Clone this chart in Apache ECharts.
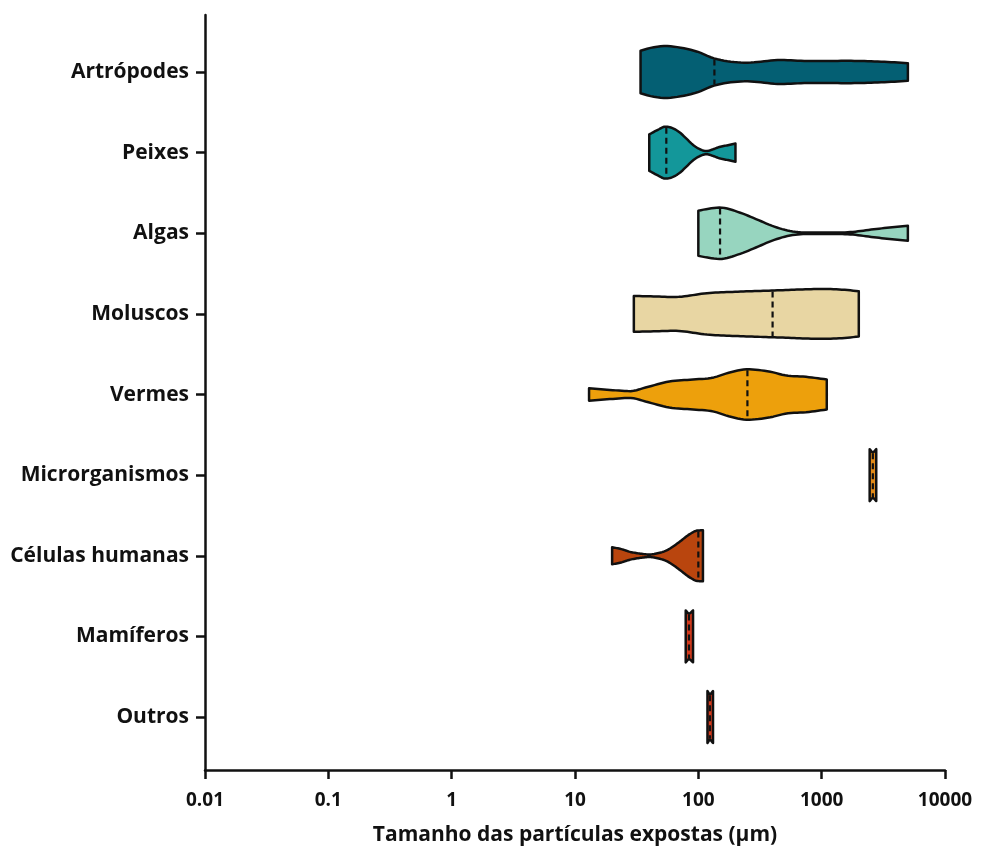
<!DOCTYPE html>
<html>
<head>
<meta charset="utf-8">
<script src="https://cdn.jsdelivr.net/npm/echarts@6/dist/echarts.min.js"></script>
<style>
  html, body { margin: 0; padding: 0; background: #fff; }
  #chart { width: 983px; height: 849px; }
</style>
</head>
<body>
<div id="chart"></div>
<script>
// categories, top to bottom
const categories = ['Artrópodes', 'Peixes', 'Algas', 'Moluscos', 'Vermes',
  'Microrganismos', 'Células humanas', 'Mamíferos', 'Outros'];
const xTickLabels = ['0.01', '0.1', '1', '10', '100', '1000', '10000'];
const colors = ['#045f73', '#13979a', '#97d5bf', '#e8d6a3', '#eda00c',
  '#e08a1a', '#b9450e', '#d23a1c', '#d23a1c'];
// median of each group (µm)
const medians = [135, 55, 150, 400, 250, 2600, 100, 84, 124];

// violin profiles: [particle size µm, relative density %]
const artropodes = [[34, 82], [42, 94], [54, 100], [75, 92], [100, 77], [131, 54],
  [181, 40], [248, 36], [460, 46], [850, 42], [1600, 43], [3000, 40], [5000, 34]];
const peixes = [[40, 70], [47, 88], [54, 100], [62, 94], [71, 77], [80, 54], [90, 31],
  [103, 13], [117, 6], [130, 12], [149, 22], [175, 29], [200, 35]];
const algas = [[100, 87], [120, 94], [150, 99], [216, 80], [296, 54], [400, 28],
  [550, 9], [750, 3], [1200, 2.5], [1770, 5], [2600, 15], [3550, 22], [5000, 29]];
const moluscos = [[30, 69], [45, 67], [64, 65], [119, 80], [223, 86], [400, 90],
  [1050, 96], [1600, 92], [2000, 87]];
const vermes = [[13, 24], [20, 17], [28, 13], [38, 28], [58, 50], [85, 57], [131, 65],
  [180, 85], [250, 97], [380, 88], [520, 73], [750, 68], [1100, 58]];
const microrganismos = [[2450, 100], [2600, 88], [2770, 100]];
const celulas = [[20, 33], [24, 25], [28, 15], [34, 8], [40, 5], [47, 10], [55, 20],
  [63, 37], [71, 55], [85, 83], [98, 97], [109, 98]];
const mamiferos = [[79, 100], [84, 88], [90.6, 100]];
const outros = [[118.6, 100], [124, 88], [131.5, 100]];

const profiles = [artropodes, peixes, algas, moluscos, vermes,
  microrganismos, celulas, mamiferos, outros];

const VIOLIN_HALF = 0.322; // half width of a 100% violin, in category units

// monotone cubic interpolation (Fritsch–Carlson) in log10(x)
function monotone(xs, ys) {
  const n = xs.length;
  const d = [], m = new Array(n);
  for (let i = 0; i < n - 1; i++) d.push((ys[i + 1] - ys[i]) / (xs[i + 1] - xs[i]));
  m[0] = d[0]; m[n - 1] = d[n - 2];
  for (let i = 1; i < n - 1; i++) {
    m[i] = d[i - 1] * d[i] <= 0 ? 0 : (d[i - 1] + d[i]) / 2;
  }
  for (let i = 0; i < n - 1; i++) {
    if (d[i] === 0) { m[i] = 0; m[i + 1] = 0; continue; }
    const a = m[i] / d[i], b = m[i + 1] / d[i];
    const s = a * a + b * b;
    if (s > 9) { const t = 3 / Math.sqrt(s); m[i] = t * a * d[i]; m[i + 1] = t * b * d[i]; }
  }
  return function (x) {
    let i = 0;
    while (i < n - 2 && x > xs[i + 1]) i++;
    const h = xs[i + 1] - xs[i], t = (x - xs[i]) / h;
    const t2 = t * t, t3 = t2 * t;
    return (2 * t3 - 3 * t2 + 1) * ys[i] + (t3 - 2 * t2 + t) * h * m[i]
      + (-2 * t3 + 3 * t2) * ys[i + 1] + (t3 - t2) * h * m[i + 1];
  };
}

function renderViolin(params, api) {
  const idx = params.dataIndex;
  const prof = profiles[idx];
  const lx = prof.map(p => Math.log10(p[0]));
  const f = monotone(lx, prof.map(p => p[1]));
  const unit = api.size([0, 1])[1];
  const cy = api.coord([medians[idx], idx])[1];
  const half = v => Math.max(0, v) / 100 * VIOLIN_HALF * unit;
  const top = [], bottom = [];
  const steps = 80;
  for (let s = 0; s <= steps; s++) {
    const l = lx[0] + (lx[lx.length - 1] - lx[0]) * s / steps;
    const px = api.coord([Math.pow(10, l), idx])[0];
    const h = half(f(l));
    top.push([px, cy - h]);
    bottom.unshift([px, cy + h]);
  }
  const mx = api.coord([medians[idx], idx])[0];
  const mh = half(f(Math.log10(medians[idx])));
  return {
    type: 'group',
    children: [
      {
        type: 'polygon',
        shape: { points: top.concat(bottom) },
        style: { fill: colors[idx], stroke: '#111', lineWidth: 2.5, lineJoin: 'round' }
      },
      {
        type: 'line',
        shape: { x1: mx, y1: cy - mh + 1, x2: mx, y2: cy + mh - 1 },
        style: { stroke: '#111', lineWidth: 2.2, lineDash: [6, 4] }
      }
    ]
  };
}

const chart = echarts.init(document.getElementById('chart'));
const fontFamily = '"Open Sans", "DejaVu Sans", sans-serif';

chart.setOption({
  backgroundColor: '#fff',
  animation: false,
  grid: { left: 205, right: 38, top: 15, bottom: 79, outerBoundsMode: 'none', containLabel: false },
  xAxis: {
    type: 'log',
    logBase: 10,
    min: 0.01,
    max: 10000,
    name: 'Tamanho das partículas expostas (µm)',
    nameLocation: 'middle',
    nameGap: 55,
    nameTextStyle: { color: '#111', fontSize: 21, fontWeight: 'bold', fontFamily },
    axisLine: { onZero: false, lineStyle: { color: '#111', width: 2.5 } },
    axisTick: { length: 9, lineStyle: { color: '#111', width: 2.5 } },
    minorTick: { show: false },
    splitLine: { show: false },
    axisLabel: {
      margin: 21,
      color: '#111',
      fontSize: 19,
      fontWeight: 'bold',
      fontFamily,
      formatter: v => {
        const k = Math.round(Math.log10(v)) + 2;
        return xTickLabels[k] !== undefined ? xTickLabels[k] : '';
      }
    }
  },
  yAxis: {
    type: 'value',
    inverse: true,
    min: -0.707,
    max: 8.657,
    splitLine: { show: false },
    axisLine: { show: true, onZero: false, lineStyle: { color: '#111', width: 2.5 } },
    axisTick: {
      show: true, length: 9,
      lineStyle: { color: '#111', width: 2.5 },
      customValues: categories.map((c, i) => i)
    },
    axisLabel: {
      margin: 16,
      color: '#111',
      fontSize: 21,
      fontWeight: 'bold',
      fontFamily,
      customValues: categories.map((c, i) => i),
      formatter: v => categories[Math.round(v)] || ''
    }
  },
  series: [{
    type: 'custom',
    renderItem: renderViolin,
    encode: { x: 0, y: 1 },
    data: medians.map((m, i) => [m, i]),
    clip: false
  }]
});
</script>
</body>
</html>
